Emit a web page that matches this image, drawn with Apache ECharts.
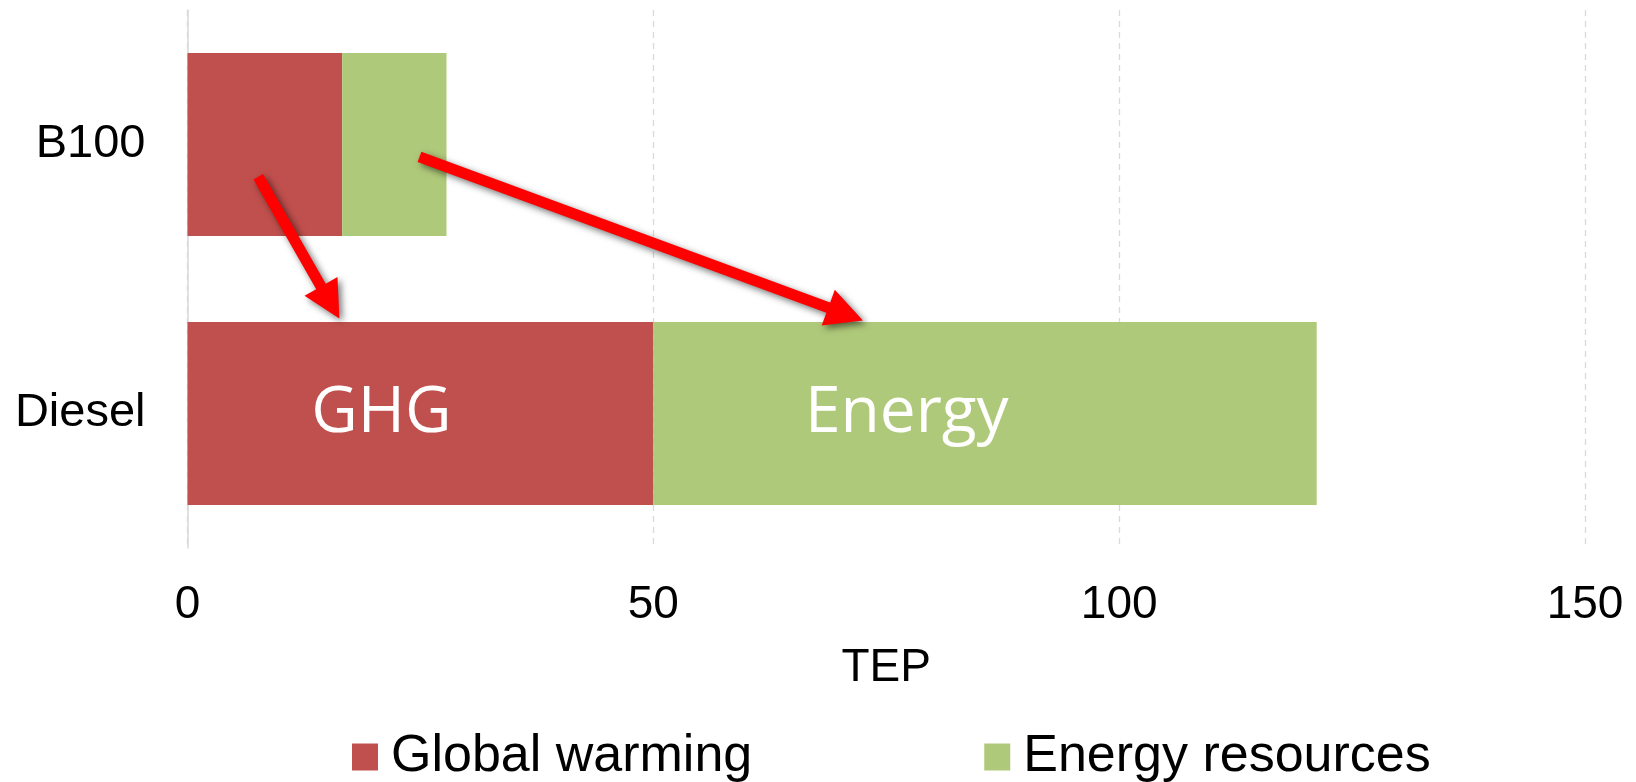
<!DOCTYPE html>
<html>
<head>
<meta charset="utf-8">
<script src="https://cdn.jsdelivr.net/npm/echarts@6/dist/echarts.min.js"></script>
<style>
  html, body { margin: 0; padding: 0; background: #fff; }
  #chart { width: 1636px; height: 782px; }
</style>
</head>
<body>
<div id="chart"></div>
<script>
// Fuel comparison: impact per category, stacked horizontal bars
const categories = ['B100', 'Diesel'];
const globalWarming = [16.6, 50];
const energyResources = [11.2, 71.2];
const xTicks = [0, 50, 100, 150];
const seriesNames = ['Global warming', 'Energy resources'];

// Callouts inside the Diesel bar (x in TEP units, category name)
const noteTexts = ['GHG', 'Energy'];
const noteX = [20.8, 77.2];
const noteCat = ['Diesel', 'Diesel'];

// Arrows from the B100 segments to the Diesel segments
// (x in TEP units, y as a fraction between the B100 and Diesel rows)
const arrowFromX = [7.6, 24.9];
const arrowFromY = [0.12, 0.046];
const arrowToX = [16.3, 72.5];
const arrowToY = [0.647, 0.654];

const RED = '#C0504D';
const GREEN = '#AFC97A';
const FONT = '"Liberation Sans", Arial, sans-serif';

const chart = echarts.init(document.getElementById('chart'));

chart.setOption({
  animation: false,
  grid: { left: 187.5, right: 51, top: 10, bottom: 234 },
  legend: {
    data: seriesNames,
    left: 347,
    top: 726,
    itemWidth: 26,
    itemHeight: 27,
    itemGap: 232,
    icon: 'rect',
    textStyle: { fontFamily: FONT, fontSize: 52, color: '#000', padding: [0, 0, 0, 8] }
  },
  xAxis: {
    type: 'value',
    min: xTicks[0],
    max: xTicks[xTicks.length - 1],
    interval: xTicks[1] - xTicks[0],
    name: 'TEP',
    nameLocation: 'middle',
    nameGap: 97,
    nameTextStyle: { fontFamily: FONT, fontSize: 46, color: '#000' },
    axisLine: { show: false },
    axisTick: { show: false },
    axisLabel: { fontFamily: FONT, fontSize: 46, color: '#000', margin: 34 },
    splitLine: { show: true, lineStyle: { color: '#d9d9d9', type: [6, 5], width: 1.3 } }
  },
  yAxis: {
    type: 'category',
    data: categories,
    inverse: true,
    axisLine: { show: true, lineStyle: { color: '#d9d9d9', width: 1.5 } },
    axisTick: { show: false },
    axisLabel: { fontFamily: FONT, fontSize: 47, color: '#000', margin: 42 }
  },
  series: [
    {
      name: seriesNames[0],
      type: 'bar',
      stack: 'total',
      barWidth: '68%',
      itemStyle: { color: RED },
      data: globalWarming
    },
    {
      name: seriesNames[1],
      type: 'bar',
      stack: 'total',
      barWidth: '68%',
      itemStyle: { color: GREEN },
      data: energyResources
    }
  ]
});

// Build callout texts and arrows from axis coordinates
function yFrac(f) {
  const y0 = chart.convertToPixel({ yAxisIndex: 0 }, categories[0]);
  const y1 = chart.convertToPixel({ yAxisIndex: 0 }, categories[1]);
  return y0 + f * (y1 - y0);
}
function xPix(v) {
  return chart.convertToPixel({ xAxisIndex: 0 }, v);
}

const graphics = [];

noteTexts.forEach(function (t, i) {
  graphics.push({
    type: 'text',
    x: xPix(noteX[i]),
    y: chart.convertToPixel({ yAxisIndex: 0 }, noteCat[i]),
    z: 10,
    style: {
      text: t,
      fill: '#fff',
      font: '64px "Open Sans", "Noto Sans", sans-serif',
      textAlign: 'center',
      textVerticalAlign: 'middle'
    }
  });
});

function arrowPoints(x1, y1, x2, y2, shaft, headLen, headW) {
  const dx = x2 - x1, dy = y2 - y1;
  const len = Math.sqrt(dx * dx + dy * dy);
  const ux = dx / len, uy = dy / len;
  const nx = -uy, ny = ux;
  const bx = x2 - ux * headLen, by = y2 - uy * headLen;
  const s = shaft / 2, h = headW / 2;
  return [
    [x1 + nx * s, y1 + ny * s],
    [bx + nx * s, by + ny * s],
    [bx + nx * h, by + ny * h],
    [x2, y2],
    [bx - nx * h, by - ny * h],
    [bx - nx * s, by - ny * s],
    [x1 - nx * s, y1 - ny * s]
  ];
}

arrowFromX.forEach(function (fx, i) {
  graphics.push({
    type: 'polygon',
    z: 20,
    shape: {
      points: arrowPoints(xPix(fx), yFrac(arrowFromY[i]), xPix(arrowToX[i]), yFrac(arrowToY[i]), 11, 37, 38)
    },
    style: {
      fill: '#FF0000',
      shadowBlur: 7,
      shadowColor: 'rgba(0,0,0,0.55)',
      shadowOffsetX: 3,
      shadowOffsetY: 3
    }
  });
});

chart.setOption({ graphic: graphics });
</script>
</body>
</html>
